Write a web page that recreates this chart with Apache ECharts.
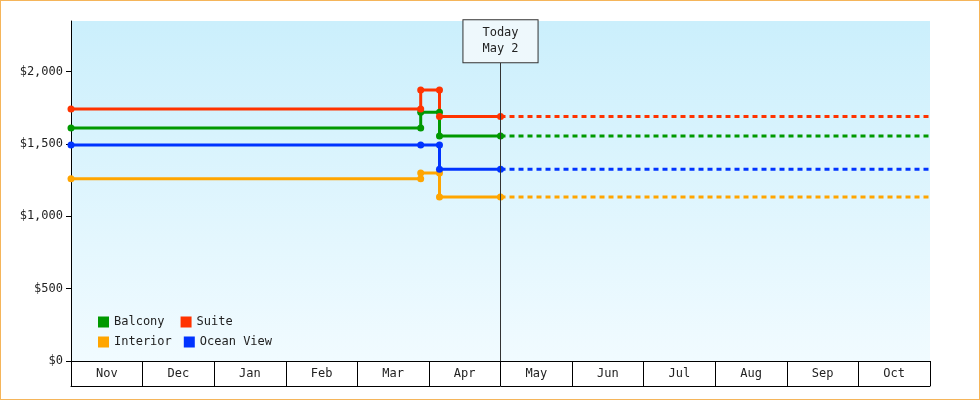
<!DOCTYPE html>
<html><head><meta charset="utf-8">
<script src="https://cdn.jsdelivr.net/npm/echarts@6/dist/echarts.min.js"></script>
<style>html,body{margin:0;padding:0;background:#fff}#c{width:978px;height:398px;border:1px solid #f5b55a}</style>
</head><body><div id="c"></div>
<script>
const months=['Nov','Dec','Jan','Feb','Mar','Apr','May','Jun','Jul','Aug','Sep','Oct'];
const yTicks=[0,500,1000,1500,2000];
const startDate='2023-11-01', endDate='2024-11-01', today='2024-05-02';
const balcony=[['2023-11-01',1610],['2024-03-29',1610],['2024-03-29',1720],['2024-04-06',1720],['2024-04-06',1555],['2024-05-02',1555]];
const suite=[['2023-11-01',1742],['2024-03-29',1742],['2024-03-29',1873],['2024-04-06',1873],['2024-04-06',1690],['2024-05-02',1690]];
const interior=[['2023-11-01',1260],['2024-03-29',1260],['2024-03-29',1300],['2024-04-06',1300],['2024-04-06',1133],['2024-05-02',1133]];
const ocean=[['2023-11-01',1493],['2024-03-29',1493],['2024-04-06',1493],['2024-04-06',1325],['2024-05-02',1325]];
const colors={Balcony:'#009900',Suite:'#ff3300',Interior:'#ffa500','Ocean View':'#0033ff'};
const font='DejaVu Sans Mono';
const ch=echarts.init(document.getElementById('c'));
function solid(name,d){return {name,type:'line',data:d,symbol:'circle',symbolSize:7,lineStyle:{width:3,color:colors[name]},itemStyle:{color:colors[name]},z:3};}
function dashed(name,d){const last=d[d.length-1];return {name,type:'line',data:[[last[0],last[1]],[endDate,last[1]]],symbol:'none',lineStyle:{width:3,type:[5,4],color:colors[name]},itemStyle:{color:colors[name]}};}
const series=[solid('Balcony',balcony),solid('Suite',suite),solid('Interior',interior),solid('Ocean View',ocean),
dashed('Balcony',balcony),dashed('Suite',suite),dashed('Interior',interior),dashed('Ocean View',ocean)];
series[0].markLine={silent:true,symbol:'none',lineStyle:{color:'#333',width:1,type:'solid'},
 label:{show:true,position:'end',formatter:'Today\nMay 2',fontFamily:font,fontSize:12,color:'#222',backgroundColor:'#eef8fc',borderColor:'#333',borderWidth:1,padding:[5,19,5,19],lineHeight:16,distance:0},
 data:[[{coord:[today,0]},{coord:[today,2065]}]]};
const legendCommon={icon:'rect',itemWidth:11,itemHeight:11,textStyle:{fontFamily:font,fontSize:12,color:'#222'},left:92,selectedMode:false};
ch.setOption({
 animation:false,
 textStyle:{fontFamily:font},
 grid:{left:70,right:49,top:20,bottom:38,show:true,borderWidth:0,
  backgroundColor:new echarts.graphic.LinearGradient(0,0,0,1,[{offset:0,color:'#cbeffc'},{offset:1,color:'#f1fbff'}])},
 legend:[Object.assign({data:['Balcony','Suite'],top:310,itemGap:16},legendCommon),Object.assign({data:['Interior','Ocean View'],top:330,itemGap:12},legendCommon)],
 xAxis:[{type:'time',min:startDate,max:endDate,axisLine:{show:true,lineStyle:{color:'#000'}},axisTick:{show:false},axisLabel:{show:false},splitLine:{show:false}},
  {type:'category',data:months,position:'bottom',gridIndex:0,boundaryGap:true,axisLine:{show:false},axisTick:{show:true,length:25,lineStyle:{color:'#000'}},axisLabel:{fontFamily:font,fontSize:12,color:'#222',margin:7},splitLine:{show:false}},
  {type:'category',data:months,position:'bottom',offset:25,axisLine:{show:true,lineStyle:{color:'#000'}},axisTick:{show:false},axisLabel:{show:false}}],
 yAxis:{type:'value',min:0,max:2350,interval:500,axisLine:{show:true,lineStyle:{color:'#000'}},splitLine:{show:false},
  axisLabel:{fontFamily:font,fontSize:12,color:'#222',customValues:yTicks,formatter:v=>'$'+v.toLocaleString('en-US')},
  axisTick:{show:true,length:5,customValues:yTicks,lineStyle:{color:'#000'}}},
 series
});
</script></body></html>
